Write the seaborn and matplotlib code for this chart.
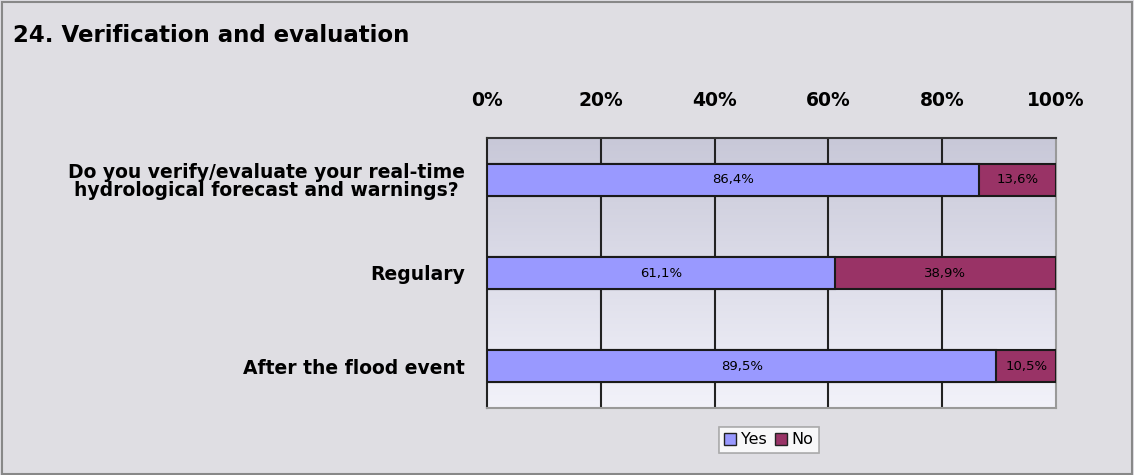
import numpy as np
import pandas as pd
import matplotlib
matplotlib.use("Agg")
import matplotlib.pyplot as plt
from matplotlib.patches import Rectangle
import seaborn as sns

title = "24. Verification and evaluation"
categories = [
    "Do you verify/evaluate your real-time\nhydrological forecast and warnings?",
    "Regulary",
    "After the flood event",
]
yes_values = [86.4, 61.1, 89.5]
no_values = [13.6, 38.9, 10.5]
x_ticks = [0, 20, 40, 60, 80, 100]
series_names = ["Yes", "No"]

yes_color = "#9999FF"
no_color = "#993366"
fig_bg = "#DFDEE3"

sns.set_theme(style="white")
plt.rcParams["font.family"] = ["DejaVu Sans"]
plt.rcParams["text.color"] = "black"
plt.rcParams["xtick.color"] = "black"
plt.rcParams["ytick.color"] = "black"

df = pd.DataFrame({"category": categories, "Yes": yes_values, "No": no_values})
df["total"] = df["Yes"] + df["No"]

fig = plt.figure(figsize=(11.34, 4.75), dpi=100, facecolor=fig_bg)
ax = fig.add_axes([487 / 1134, 1 - 408 / 475, (1056 - 487) / 1134, (408 - 138) / 475])

# gradient plot area
grad = np.linspace(0, 1, 256).reshape(-1, 1)
top = np.array([200, 200, 216]) / 255
bot = np.array([242, 242, 250]) / 255
img = top + (bot - top) * grad[..., None]
ax.imshow(img.reshape(256, 1, 3), extent=[0, 100, 2.45, -0.45], aspect="auto", zorder=0)

bar_h = 0.35
sns.barplot(data=df, x="total", y="category", orient="h", color=no_color,
            width=bar_h, edgecolor="#1a1a1a", linewidth=1.5, saturation=1, ax=ax, zorder=3)
sns.barplot(data=df, x="Yes", y="category", orient="h", color=yes_color,
            width=bar_h, edgecolor="#1a1a1a", linewidth=1.5, saturation=1, ax=ax, zorder=4)

for i, (y_, n_) in enumerate(zip(yes_values, no_values)):
    ax.text(y_ / 2, i, f"{y_:.1f}%".replace(".", ","), ha="center", va="center",
            fontsize=9.5, color="black", zorder=5)
    ax.text(y_ + n_ / 2, i, f"{n_:.1f}%".replace(".", ","), ha="center", va="center",
            fontsize=9.5, color="black", zorder=5)

ax.set_xlim(0, 100)
ax.set_ylim(2.45, -0.45)
ax.set_xticks(x_ticks)
ax.set_xticklabels([f"{t}%" for t in x_ticks], fontsize=13.5, fontweight="heavy")
ax.xaxis.tick_top()
ax.tick_params(axis="x", length=0, pad=20)
ax.set_yticks(range(len(categories)))
ax.set_yticklabels(categories, fontsize=13.5, fontweight="heavy", ha="right",
                   multialignment="center", linespacing=0.95)
ax.tick_params(axis="y", length=0, pad=16)
ax.set_yticks([0.5, 1.5, 2.45], minor=True)
ax.tick_params(axis="y", which="minor", length=3, direction="in", color="#222222", width=1)
ax.set_xlabel("")
ax.set_ylabel("")
for x in x_ticks[1:-1]:
    ax.axvline(x, color="#222222", linewidth=1.5, zorder=1)
for side, sp in ax.spines.items():
    sp.set_visible(True)
    sp.set_linewidth(1.5)
    sp.set_color("#222222" if side == "left" else "#999999")
ax.spines["top"].set_color("#333333")

fig.text(13 / 1134, 1 - 35 / 475, title, fontsize=16.5, fontweight="heavy", va="center", ha="left")

handles = [Rectangle((0, 0), 1, 1, facecolor=yes_color, edgecolor="#222222"),
           Rectangle((0, 0), 1, 1, facecolor=no_color, edgecolor="#222222")]
leg = fig.legend(handles, series_names, loc="center", bbox_to_anchor=(769 / 1134, 1 - 440 / 475),
                 ncol=2, frameon=True, fancybox=False, fontsize=11.5, handlelength=0.75,
                 handleheight=0.75, handletextpad=0.3, columnspacing=0.5, borderpad=0.35,
                 borderaxespad=0)
leg.get_frame().set_edgecolor("#999999")
leg.get_frame().set_facecolor("white")
leg.get_frame().set_linewidth(1.2)

# outer frame
fig.patches.append(Rectangle((0.002, 0.003), 0.996, 0.992, transform=fig.transFigure,
                             fill=False, edgecolor="#888888", linewidth=1.5))

fig.savefig("out.png", dpi=100, facecolor=fig_bg)
